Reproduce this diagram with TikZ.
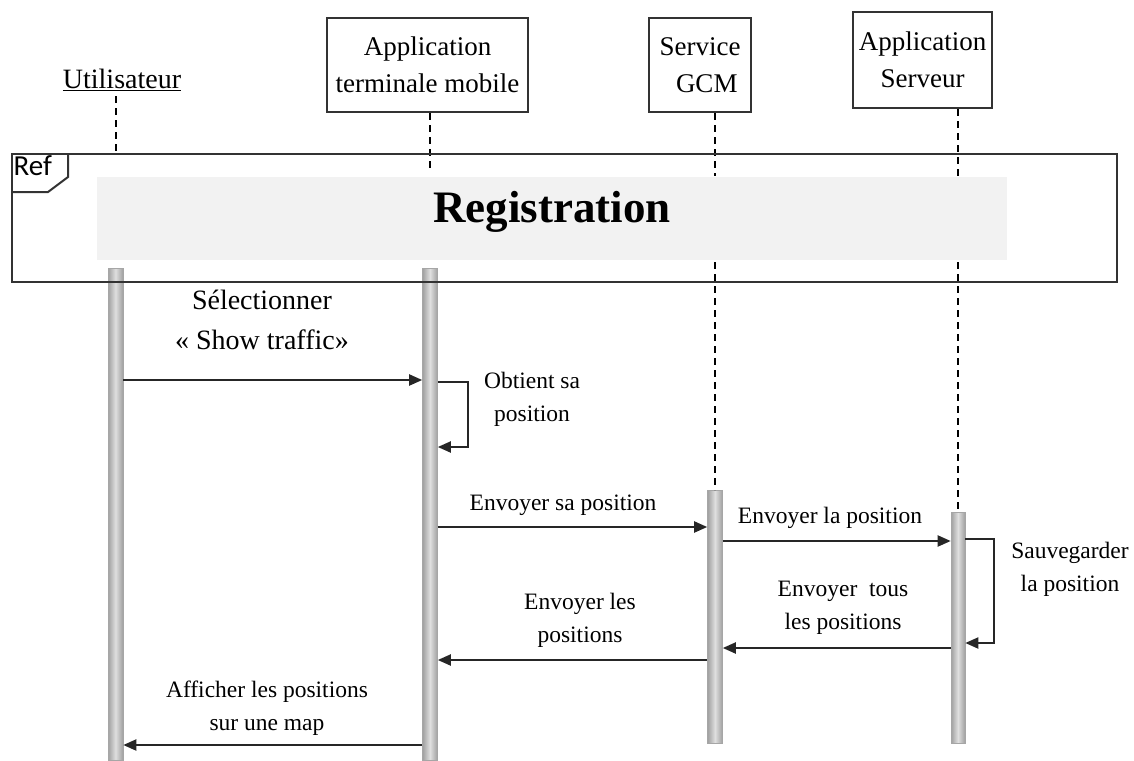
\documentclass[tikz,border=0pt]{standalone}
\usepackage{fontspec}
\setmainfont{Liberation Serif}
\newfontfamily\reffont{Carlito}
\usetikzlibrary{arrows.meta}

\tikzset{
  lifebox/.style={draw=black!80, line width=2pt, align=center, inner sep=0pt,
    font=\fontsize{27}{37}\selectfont},
  lifeline/.style={line width=2pt, dash pattern=on 7pt off 5pt},
  actbar/.style={draw=gray!70, line width=0.6pt, left color=gray!75, right color=gray!75,
    middle color=gray!25, minimum width=15pt, inner sep=0pt, anchor=north},
  msg/.style={line width=2pt, draw=black!85, -{Triangle[length=13pt,width=11pt]}},
  msglabel/.style={font=\fontsize{23.5}{33}\selectfont, align=center}
}

\begin{document}
\begin{tikzpicture}[x=1pt,y=-1pt]
  \useasboundingbox (0,0) rectangle (1134,760);

  % participants
  \node[font=\fontsize{28}{32}\selectfont] (user) at (122,80) {\underline{Utilisateur}};
  \node[lifebox, minimum width=201pt, minimum height=94pt] (mobile) at (427.5,65)
    {Application\\terminale mobile};
  \node[lifebox, minimum width=102pt, minimum height=94pt] (gcm) at (700,65)
    {Service\\\ \ GCM};
  \node[lifebox, minimum width=139pt, minimum height=96pt] (server) at (922.5,60)
    {Application\\Serveur};

  % activation bars
  \node[actbar, minimum height=492pt] (userbar) at (115.5,268) {};
  \node[actbar, minimum height=492pt] (mobilebar) at (430,268) {};
  \node[actbar, minimum height=253pt] (gcmbar) at (715,490) {};
  \node[actbar, minimum height=231pt, minimum width=14pt] (serverbar) at (958,512) {};

  % lifelines
  \draw[lifeline] (userbar.north |- 0,96) -- (userbar.north |- 0,154);
  \draw[lifeline] (mobile.south -| mobilebar.north) -- (430,172);
  \draw[lifeline] (gcm.south -| gcmbar.north) -- (715,176);
  \draw[lifeline] (715,262) -- (gcmbar.north);
  \draw[lifeline] (server.south -| serverbar.north) -- (958,176);
  \draw[lifeline] (958,262) -- (serverbar.north);

  % ref frame
  \fill[gray!10] (97,177) rectangle (1007,260);
  \draw[line width=2pt, black!80] (12,154) rectangle (1117,282);
  \draw[line width=2pt, black!80] (68,154) -- (68,177) -- (48,192) -- (12,192);
  \node[font=\reffont\fontsize{29}{32}\selectfont, anchor=north west, inner sep=1.5pt] (ref) at (12,154) {Ref};
  \node[font=\bfseries\fontsize{45}{52}\selectfont] (reg) at (552,212) {Registration};

  % messages
  \draw[msg] (userbar.east |- 0,380) -- (mobilebar.west |- 0,380);
  \node[msglabel, font=\fontsize{28}{40}\selectfont] (m1) at (262,320) {Sélectionner\\« Show traffic»};

  \draw[msg] (mobilebar.east |- 0,382) -- (468,382) -- (468,447) -- (mobilebar.east |- 0,447);
  \node[msglabel] (m2) at (532,399) {Obtient sa\\position};

  \draw[msg] (mobilebar.east |- 0,527) -- (gcmbar.west |- 0,527);
  \node[msglabel] (m3) at (563,505) {Envoyer sa position};

  \draw[msg] (gcmbar.east |- 0,541) -- (serverbar.west |- 0,541);
  \node[msglabel] (m4) at (830,518) {Envoyer la position};

  \draw[msg] (serverbar.east |- 0,539) -- (994,539) -- (994,643) -- (serverbar.east |- 0,643);
  \node[msglabel] (m5) at (1070,569) {Sauvegarder\\la position};

  \draw[msg] (serverbar.west |- 0,648) -- (gcmbar.east |- 0,648);
  \node[msglabel] (m6) at (843,608) {Envoyer\ \ tous\\les positions};

  \draw[msg] (gcmbar.west |- 0,660) -- (mobilebar.east |- 0,660);
  \node[msglabel] (m7) at (580,620) {Envoyer les\\positions};

  \draw[msg] (mobilebar.west |- 0,745) -- (userbar.east |- 0,745);
  \node[msglabel] (m8) at (267,708) {Afficher les positions\\sur une map};
\end{tikzpicture}
\end{document}
